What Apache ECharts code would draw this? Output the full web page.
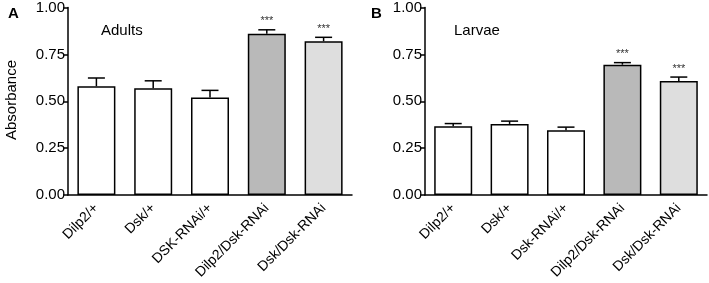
<!DOCTYPE html>
<html>
<head>
<meta charset="utf-8">
<script src="https://cdn.jsdelivr.net/npm/echarts@6/dist/echarts.min.js"></script>
<style>
html, body { margin: 0; padding: 0; background: #fff; }
#main { width: 709px; height: 283px; }
</style>
</head>
<body>
<div id="main"></div>
<script>
var adultGroups = ['Dilp2/+', 'Dsk/+', 'DSK-RNAi/+', 'Dilp2/Dsk-RNAi', 'Dsk/Dsk-RNAi'];
var larvaeGroups = ['Dilp2/+', 'Dsk/+', 'Dsk-RNAi/+', 'Dilp2/Dsk-RNAi', 'Dsk/Dsk-RNAi'];
var adultMean = [0.58, 0.57, 0.52, 0.86, 0.82];
var adultErr = [0.044, 0.039, 0.038, 0.021, 0.021];
var larvaeMean = [0.367, 0.379, 0.346, 0.695, 0.608];
var larvaeErr = [0.014, 0.015, 0.016, 0.011, 0.021];
var signif = ['', '', '', '***', '***'];
var barColors = ['#ffffff', '#ffffff', '#ffffff', '#b9b9b9', '#dedede'];

var dom = document.getElementById('main');
var myChart = echarts.init(dom);
var font = 'Liberation Sans, Arial, sans-serif';

function barData(means) {
    return means.map(function (v, i) {
        return { value: v, itemStyle: { color: barColors[i] } };
    });
}

function errData(means, errs) {
    return means.map(function (v, i) {
        return [i, v, v + errs[i]];
    });
}

// error bar (upper half only) + significance stars
function renderErr(params, api) {
    var top = api.coord([api.value(0), api.value(2)]);
    var base = api.coord([api.value(0), api.value(1)]);
    var half = 8.5;
    var children = [
        { type: 'line', shape: { x1: top[0], y1: base[1], x2: top[0], y2: top[1] },
          style: { stroke: '#000', lineWidth: 1.5 } },
        { type: 'line', shape: { x1: top[0] - half, y1: top[1], x2: top[0] + half, y2: top[1] },
          style: { stroke: '#000', lineWidth: 1.5 } }
    ];
    var s = signif[params.dataIndex];
    if (s) {
        children.push({ type: 'text', x: top[0], y: top[1] - 3,
            style: { text: s, fill: '#333', font: '11px ' + font, align: 'center', verticalAlign: 'bottom' } });
    }
    return { type: 'group', children: children };
}

function xAxisCfg(idx, cats) {
    return {
        type: 'category', gridIndex: idx, data: cats,
        axisLine: { lineStyle: { color: '#000', width: 1.5 } },
        axisTick: { alignWithLabel: true, length: 5, lineStyle: { color: '#000', width: 1.5 } },
        axisLabel: { rotate: 45, color: '#000', fontFamily: font, fontSize: 14, margin: 11 }
    };
}

function yAxisCfg(idx) {
    return {
        type: 'value', gridIndex: idx, min: 0, max: 1, interval: 0.25,
        axisLine: { show: true, lineStyle: { color: '#000', width: 1.5 } },
        axisTick: { show: true, length: 5, lineStyle: { color: '#000', width: 1.5 } },
        splitLine: { show: false },
        axisLabel: { color: '#000', fontFamily: font, fontSize: 15, margin: 3,
            formatter: function (v) { return v.toFixed(2); } }
    };
}

option = {
    animation: false,
    grid: [
        { left: 68, top: 7, width: 284, bottom: 88 },
        { left: 425, top: 7, width: 282, bottom: 88 }
    ],
    title: [
        { text: 'A', left: 3, top: 1, textStyle: { fontFamily: font, fontSize: 15, fontWeight: 'bold', color: '#000' } },
        { text: 'B', left: 366, top: 1, textStyle: { fontFamily: font, fontSize: 15, fontWeight: 'bold', color: '#000' } },
        { text: 'Adults', left: 96, top: 18, textStyle: { fontFamily: font, fontSize: 15, fontWeight: 'normal', color: '#000' } },
        { text: 'Larvae', left: 449, top: 18, textStyle: { fontFamily: font, fontSize: 15, fontWeight: 'normal', color: '#000' } }
    ],
    graphic: [
        { type: 'text', x: 4, y: 100, rotation: Math.PI / 2, origin: [0, 0],
          style: { text: 'Absorbance', font: '15px ' + font, fill: '#000', align: 'center', verticalAlign: 'top' } }
    ],
    xAxis: [xAxisCfg(0, adultGroups), xAxisCfg(1, larvaeGroups)],
    yAxis: [yAxisCfg(0), yAxisCfg(1)],
    series: [
        { type: 'bar', xAxisIndex: 0, yAxisIndex: 0, data: barData(adultMean), barWidth: 38,
          itemStyle: { borderColor: '#000', borderWidth: 1.5 } },
        { type: 'custom', xAxisIndex: 0, yAxisIndex: 0, data: errData(adultMean, adultErr), renderItem: renderErr, z: 3 },
        { type: 'bar', xAxisIndex: 1, yAxisIndex: 1, data: barData(larvaeMean), barWidth: 38,
          itemStyle: { borderColor: '#000', borderWidth: 1.5 } },
        { type: 'custom', xAxisIndex: 1, yAxisIndex: 1, data: errData(larvaeMean, larvaeErr), renderItem: renderErr, z: 3 }
    ]
};

if (option && typeof option === "object") {
    myChart.setOption(option, true);
}
</script>
</body>
</html>
